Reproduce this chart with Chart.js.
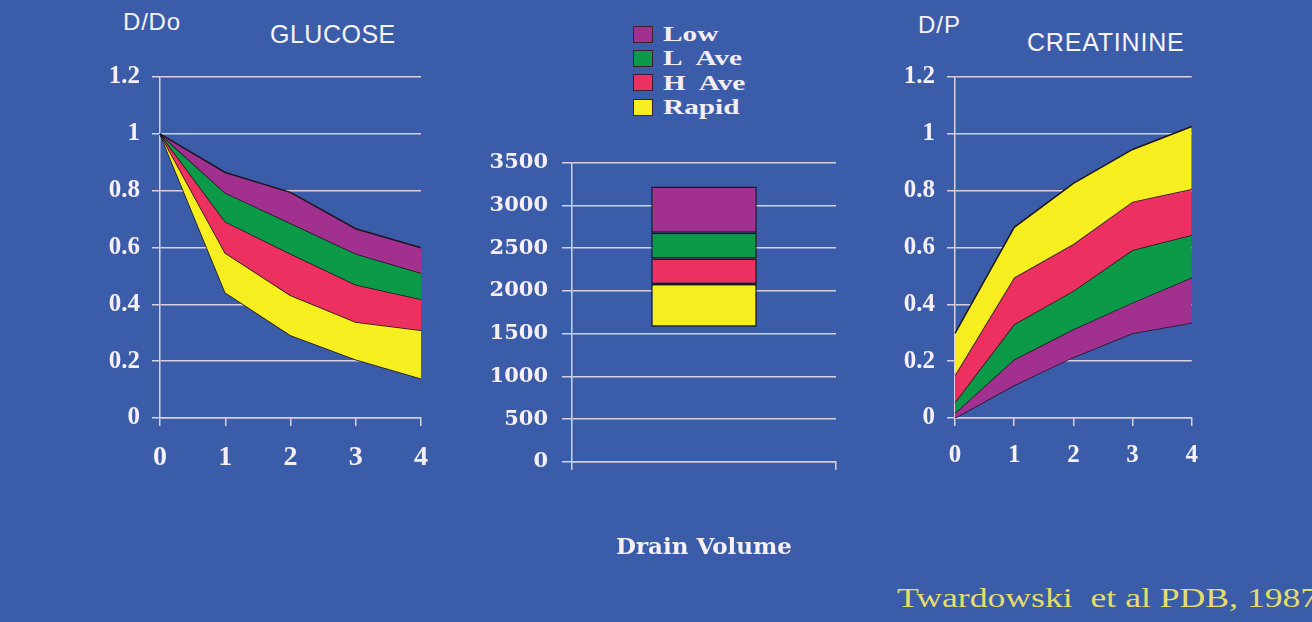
<!DOCTYPE html>
<html>
<head>
<meta charset="utf-8">
<script src="https://cdn.jsdelivr.net/npm/chart.js@4.4.1/dist/chart.umd.min.js"></script>
<style>
    html, body { margin: 0; padding: 0; }
    body { width: 1312px; height: 622px; background: #3b5da9; position: relative; overflow: hidden; }
    canvas, .lbl { position: absolute; }
    .lbl { line-height: 1; white-space: nowrap; color: #f6f2f6; }
    .sans { font-family: "Liberation Sans", Arial, sans-serif; }
    #legend { position: absolute; left: 633px; top: 22px; font-family: "Liberation Serif", serif; font-weight: bold; font-size: 22px; color: #f4eef4; }
    #legend .row { height: 24.3px; display: flex; align-items: center; white-space: nowrap; }
    #legend .box { width: 20px; height: 17px; border: 1px solid #3a2030; margin-right: 10px; box-sizing: border-box; flex: none; }
    #legend .txt { display: inline-block; transform: scaleX(1.33); transform-origin: left center; }
    #source { left: 897px; top: 585px; font-family: "Liberation Serif", serif; font-size: 27px; color: #e4dc6c;
        transform: scaleX(1.32); transform-origin: left top; }
</style>
</head>
<body>
<div class="lbl sans" style="left:123px;top:10px;font-size:24px;letter-spacing:0.8px">D/Do</div>
<div class="lbl sans" style="left:270px;top:22px;font-size:25px;letter-spacing:0.5px">GLUCOSE</div>
<div class="lbl sans" style="left:918px;top:13px;font-size:24px;letter-spacing:1px">D/P</div>
<div class="lbl sans" style="left:1027px;top:30px;font-size:25px;letter-spacing:0.8px">CREATININE</div>

<canvas id="chartGlucose" width="353" height="430" style="left:90px;top:50px"></canvas>
<canvas id="chartDrain" width="370" height="434" style="left:480px;top:136px"></canvas>
<canvas id="chartCreat" width="328" height="430" style="left:885px;top:50px"></canvas>

<div id="legend"></div>
<div class="lbl" id="source">Twardowski&nbsp; et al PDB, 1987</div>

<script>
// jam dwell (x axis)
const dwellHours = ["0", "1", "2", "3", "4"];
const groups = ["Low", "L Ave", "H Ave", "Rapid"];
const groupColors = ["#a2308e", "#0c9a48", "#ec3060", "#f6ee1e"];

// GLUCOSE D/Do - top edge of each band, plus lower edge of Rapid band
const glucoseLow = [1, 0.864, 0.794, 0.666, 0.599];
const glucoseLAve = [1, 0.792, 0.685, 0.578, 0.51];
const glucoseHAve = [1, 0.691, 0.578, 0.469, 0.418];
const glucoseRapid = [1, 0.581, 0.432, 0.338, 0.309];
const glucoseBottom = [1, 0.442, 0.291, 0.206, 0.139];

// CREATININE D/P - top edge of each band, plus lower edge of Low band
const creatRapid = [0.298, 0.671, 0.826, 0.945, 1.026];
const creatHAve = [0.151, 0.494, 0.612, 0.761, 0.806];
const creatLAve = [0.055, 0.33, 0.447, 0.591, 0.644];
const creatLow = [0.018, 0.206, 0.312, 0.406, 0.494];
const creatBottom = [0, 0.115, 0.214, 0.298, 0.335];

// Drain volume ranges [from, to]
const drainLow = [2680, 3220];
const drainLAve = [2380, 2680];
const drainHAve = [2080, 2380];
const drainRapid = [1580, 2080];

const gridColor = "#d9cfe0";
const textColor = "#f6f0f4";
const edgeColor = "#1c1620";
const serifBold = size => ({ family: "Liberation Serif", size, weight: "bold" });

const createAreaChart = (id, bands, bottom, ySize, xSize) => {
    const canvas = document.getElementById(id);
    const datasets = bands.map(b => ({
        label: b.label, data: b.data, fill: "+1",
        backgroundColor: b.color, borderColor: edgeColor,
        borderWidth: 1.5, pointRadius: 0, tension: 0
    }));
    datasets.push({ label: "", data: bottom, fill: false, borderColor: edgeColor, borderWidth: 1.5, pointRadius: 0, tension: 0 });

    return new Chart(canvas.getContext("2d"), {
        type: "line",
        data: { labels: dwellHours, datasets },
        options: {
            responsive: false,
            animation: false,
            plugins: { legend: { display: false }, tooltip: { enabled: false } },
            scales: {
                x: {
                    grid: { drawOnChartArea: false, color: gridColor, lineWidth: 1.5, tickLength: 8 },
                    border: { color: gridColor, width: 1.5 },
                    ticks: { color: textColor, font: serifBold(xSize), padding: 15, maxRotation: 0 },
                    afterFit: s => { s.height = 62; }
                },
                y: {
                    min: 0, max: 1.2,
                    grid: { color: gridColor, lineWidth: 1.5, tickLength: 8 },
                    border: { color: gridColor, width: 1.5 },
                    ticks: { stepSize: 0.2, color: textColor, font: serifBold(ySize), padding: 12,
                        callback: v => String(+v.toFixed(1)) },
                    afterFit: s => { s.width = 70; }
                }
            }
        }
    });
};

const glucoseChart = createAreaChart("chartGlucose", [
    { label: groups[0], data: glucoseLow, color: groupColors[0] },
    { label: groups[1], data: glucoseLAve, color: groupColors[1] },
    { label: groups[2], data: glucoseHAve, color: groupColors[2] },
    { label: groups[3], data: glucoseRapid, color: groupColors[3] }
], glucoseBottom, 25, 28);

const creatChart = createAreaChart("chartCreat", [
    { label: groups[3], data: creatRapid, color: groupColors[3] },
    { label: groups[2], data: creatHAve, color: groupColors[2] },
    { label: groups[1], data: creatLAve, color: groupColors[1] },
    { label: groups[0], data: creatLow, color: groupColors[0] }
], creatBottom, 25, 25);

// bar tengah: floating bars on top of each other
const drainRanges = [drainLow, drainLAve, drainHAve, drainRapid];
const drainChart = new Chart(document.getElementById("chartDrain").getContext("2d"), {
    type: "bar",
    data: {
        labels: [""],
        datasets: groups.map((g, i) => ({
            label: g, data: [drainRanges[i]],
            backgroundColor: groupColors[i], borderColor: edgeColor,
            borderWidth: 1.5, borderSkipped: false, grouped: false,
            barPercentage: 0.4, categoryPercentage: 1
        }))
    },
    options: {
        responsive: false,
        animation: false,
        layout: { padding: { top: 0, right: 14, bottom: 0, left: 0 } },
        plugins: { legend: { display: false }, tooltip: { enabled: false } },
        scales: {
            x: {
                grid: { drawOnChartArea: false, color: gridColor, lineWidth: 1.5, tickLength: 8 },
                border: { color: gridColor, width: 1.5 },
                ticks: { display: false },
                title: { display: true, text: "Drain Volume", color: textColor,
                    padding: { top: 4, bottom: 8 },
                    font: { family: "DejaVu Serif", size: 23, weight: "bold" } },
                afterFit: s => { s.height = 108; }
            },
            y: {
                min: 0, max: 3500,
                grid: { color: gridColor, lineWidth: 1.5, tickLength: 10 },
                border: { color: gridColor, width: 1.5 },
                ticks: { stepSize: 500, color: textColor, padding: 14,
                    font: { family: "DejaVu Serif", size: 21, weight: "bold" },
                    callback: v => String(v) },
                afterFit: s => { s.width = 92; }
            }
        }
    }
});

// legenda HTML
const legend = document.getElementById("legend");
groups.forEach((g, i) => {
    const row = document.createElement("div");
    row.className = "row";
    row.innerHTML = `<span class="box" style="background:${groupColors[i]}"></span><span class="txt">${g.replace(" ", "&nbsp; ")}</span>`;
    legend.appendChild(row);
});
</script>
</body>
</html>
